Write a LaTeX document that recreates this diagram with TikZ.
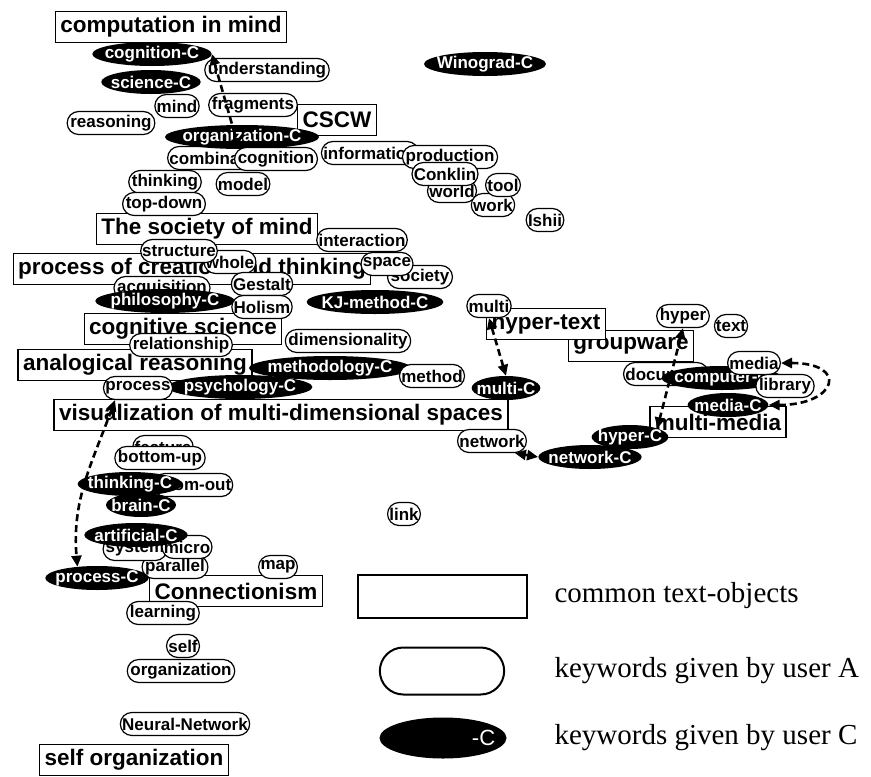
\documentclass[tikz,border=0pt]{standalone}
\usepackage{fontspec}
\setmainfont{Liberation Serif}
\setsansfont{Liberation Sans}
\usetikzlibrary{arrows.meta,shapes.geometric,shapes.misc}

\begin{document}
\begin{tikzpicture}[x=1pt,y=-1pt,>={Triangle[length=11pt,width=10pt]},
  obj/.style={draw,line width=1.3pt,fill=white,inner xsep=5pt,inner ysep=3pt,minimum height=31pt,font=\sffamily\bfseries\fontsize{22.5}{23}\selectfont},
  kwa/.style={draw,line width=1.2pt,fill=white,rounded rectangle,inner xsep=0pt,inner ysep=2.5pt,minimum height=23pt,font=\sffamily\bfseries\fontsize{17}{17}\selectfont},
  kwc/.style={ellipse,fill=black,text=white,inner xsep=-5pt,inner ysep=0pt,minimum height=24pt,font=\sffamily\bfseries\fontsize{17}{17}\selectfont},
  pairlink/.style={<->,dash pattern=on 7pt off 4pt,line width=2.6pt},
  legtxt/.style={anchor=west,font=\rmfamily\fontsize{29}{29}\selectfont}]
\useasboundingbox (0,0) rectangle (871,777);
% common text-objects
\node[obj] (compmind) at (171,27) {computation in mind};
\node[obj] (cscw) at (337,120) {CSCW};
\node[obj] (societymind) at (207,229) {The society of mind};
\node[obj] (procthink) at (192,269) {process of creation and thinking};
\node[obj] (cogsci) at (183,329) {cognitive science};
\node[obj] (analog) at (135,365) {analogical reasoning};
\node[obj] (visual) at (281,415) {visualization of multi-dimensional spaces};
\node[obj] (groupware) at (631,346) {groupware};
\node[obj] (hypertext) at (546,324) {hyper-text};
\node[obj] (multimedia) at (718,422) {multi-media};
\node[obj] (connect) at (236,591) {Connectionism};
\node[obj] (selforg) at (134,760) {self organization};
% keywords of user A and user C
\node[kwc] (cognitionC) at (152,54) {cognition-C};
\node[kwc] (scienceC) at (151,82) {science-C};
\node[kwa] (understanding) at (267,70) {understanding};
\node[kwa] (mind) at (177,106) {mind};
\node[kwa] (fragments) at (253,105) {fragments};
\node[kwa] (reasoning) at (111,123) {reasoning};
\node[kwa] (combination) at (220,158) {combination};
\node[kwc] (organizationC) at (242,137) {organization-C};
\node[kwa] (cognition) at (276,159) {cognition};
\node[kwa] (thinking) at (165,182) {thinking};
\node[kwa] (model) at (243,184) {model};
\node[kwa] (topdown) at (164,204) {top-down};
\node[kwa] (information) at (370,153) {information};
\node[kwa] (production) at (450,157) {production};
\node[kwa] (world) at (452,191) {world};
\node[kwa] (work) at (493,205) {work};
\node[kwa] (tool) at (503,185) {tool};
\node[kwa] (conklin) at (445,174) {Conklin};
\node[kwc] (winogradC) at (485,64) {Winograd-C};
\node[kwa] (ishii) at (545,220) {Ishii};
\node[kwa] (interaction) at (362,240) {interaction};
\node[kwa] (whole) at (230,262) {whole};
\node[kwa] (structure) at (179,251) {structure};
\node[kwa] (acquisition) at (162,288) {acquisition};
\node[kwc] (philosophyC) at (165,301) {philosophy-C};
\node[kwa] (gestalt) at (262,284) {Gestalt};
\node[kwa] (holism) at (262,307) {Holism};
\node[kwa] (society) at (420,277) {society};
\node[kwa] (space) at (387,264) {space};
\node[kwc] (kjC) at (375,302) {KJ-method-C};
\node[kwa] (dimensionality) at (348,341) {dimensionality};
\node[kwa] (relationship) at (181,345) {relationship};
\node[kwc] (methodologyC) at (330,368) {methodology-C};
\node[kwc] (psychologyC) at (240,387) {psychology-C};
\node[kwa] (process) at (138,388) {process};
\node[kwa] (method) at (432,376) {method};
\node[kwa] (multi) at (489,306) {multi};
\node[kwc] (multiC) at (506,388) {multi-C};
\node[kwa] (network) at (492,441) {network};
\node[kwa] (hyper) at (683,316) {hyper};
\node[kwa] (text) at (731,326) {text};
\node[kwa] (document) at (666,374) {document};
\node[kwc] (computerC) at (722,378) {computer-C};
\node[kwa] (media) at (754,363) {media};
\node[kwa] (library) at (785,386) {library};
\node[kwc] (mediaC) at (728,405) {media-C};
\node[kwc] (networkC) at (590,457) {network-C};
\node[kwc] (hyperC) at (630,437) {hyper-C};
\node[kwa] (feature) at (163,447) {feature};
\node[kwa] (bottomup) at (160,458) {bottom-up};
\node[kwa] (zoomout) at (193,485) {zoom-out};
\node[kwc] (brainC) at (141,505) {brain-C};
\node[kwc] (thinkingC) at (130,484) {thinking-C};
\node[kwa] (parallel) at (175,567) {parallel};
\node[kwa] (system) at (135,549) {system};
\node[kwa] (micro) at (187,547) {micro};
\node[kwc] (artificialC) at (136,535) {artificial-C};
\node[kwc] (processC) at (97,578) {process-C};
\node[kwa] (map) at (278,567) {map};
\node[kwa] (link) at (404,514) {link};
\node[kwa] (learning) at (163,613) {learning};
\node[kwa] (self) at (183,646) {self};
\node[kwa] (organization) at (181,671) {organization};
\node[kwa] (neural) at (185,724) {Neural-Network};
% same keyword of A and C
\draw[pairlink] (cognitionC.east) -- (cognition.165);
\draw[pairlink] (multi.south) -- (multiC.north);
\draw[pairlink] (hyper.south) -- (hyperC.north east);
\draw[pairlink] (network.south east) -- (networkC.west);
\draw[pairlink] (media.east) to[out=0,in=0,looseness=4] (mediaC.east);
\draw[pairlink] (process.south west) to[out=-110,in=95] (processC.150);
% legend
\node[draw,line width=2pt,minimum width=169pt,minimum height=43pt] (legobj) at (442,596) {};
\node[legtxt] (legobjtxt) at (551,596) {common text-objects};
\node[draw,line width=2pt,rounded rectangle,minimum width=131pt,minimum height=47pt] (lega) at (442,671) {};
\node[legtxt] (legatxt) at (551,671) {keywords given by user A};
\node[ellipse,fill=black,minimum width=127pt,minimum height=41pt] (legc) at (443,738) {};
\node[text=white,font=\sffamily\fontsize{22}{22}\selectfont,anchor=east] (legcC) at ([xshift=-8pt]legc.east) {-C};
\node[legtxt] (legctxt) at (551,738) {keywords given by user C};
\end{tikzpicture}
\end{document}
